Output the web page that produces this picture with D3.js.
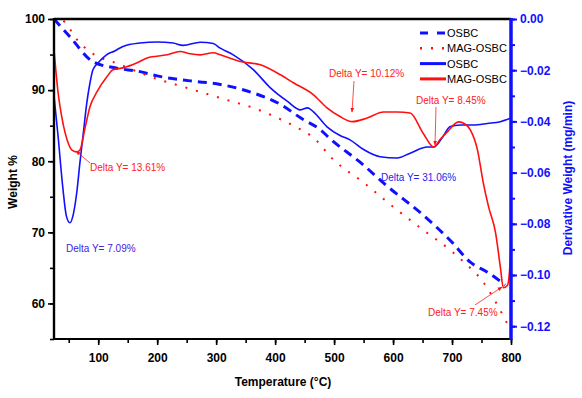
<!DOCTYPE html>
<html>
<head>
<meta charset="utf-8">
<script src="https://cdn.jsdelivr.net/npm/d3@7"></script>
<style>
  body { margin: 0; background: #fff; }
  text { font-family: "Liberation Sans", Arial, sans-serif; }
</style>
</head>
<body>
<svg id="chart" width="582" height="398"></svg>
<script>
// TG curves (weight %) -- [temperature, value]
const osbcTG = [
  [25, 100], [52, 97.5], [91, 94.0], [130, 93.1], [171, 92.6], [200, 92.0], [256, 91.3],
  [307, 90.8], [363, 89.6], [409, 88.0], [443, 86.1], [477, 84.4], [494, 83.1], [545, 79.8],
  [590, 76.5], [650, 72.5], [700, 68.6], [731, 65.8], [760, 64.4], [790, 62.6]
];
const magTG = [
  [25, 100.5], [44, 99.5], [64, 97.1], [86, 95.4], [137, 93.6], [188, 91.9], [251, 90.3],
  [319, 88.6], [363, 87.5], [409, 85.9], [438, 84.7], [465, 83.3], [499, 80.2], [550, 77.0],
  [600, 73.6], [650, 70.4], [700, 67.3], [719, 65.9], [753, 63.0], [774, 60.2], [794, 57.1]
];
// DTG curves (mg/min)
const osbcDTG = [
  [25, -0.030], [32, -0.046], [40, -0.066], [46, -0.077], [52, -0.0796], [58, -0.076],
  [64, -0.067], [69, -0.056], [75, -0.044], [80.5, -0.033], [86, -0.025], [91, -0.0198],
  [100, -0.0171], [114, -0.0140], [128, -0.0125], [142, -0.0107], [171, -0.0094],
  [200, -0.0090], [227, -0.0094], [244, -0.0103], [273, -0.0091], [295, -0.0096],
  [307, -0.0114], [329, -0.0140], [363, -0.0198], [392, -0.0269], [421, -0.0322],
  [443, -0.0355], [455, -0.0347], [465, -0.0363], [488, -0.0421],
  [510, -0.0455], [527, -0.0472], [550, -0.051], [578, -0.0538], [607, -0.0543],
  [629, -0.0524], [658, -0.0500], [669, -0.0500], [683, -0.0465], [697, -0.0420],
  [714, -0.0414], [736, -0.0414], [760, -0.0408], [782, -0.0401], [800, -0.0387]
];
const magDTG = [
  [25, -0.0120], [32, -0.0289], [38, -0.038], [44, -0.0446], [50, -0.049], [55.5, -0.0512],
  [64, -0.0519], [69, -0.0512], [78, -0.0422], [86, -0.0343], [98, -0.0284],
  [115, -0.0225], [125, -0.0198], [142, -0.0191], [166, -0.0171], [183, -0.0152],
  [217, -0.0140], [239, -0.0127], [256, -0.0136], [273, -0.0140], [295, -0.0132],
  [307, -0.0140], [341, -0.0166], [375, -0.0179], [409, -0.0218], [431, -0.0249],
  [465, -0.0296], [488, -0.0347], [510, -0.0381],
  [531, -0.0401], [556, -0.0387], [584, -0.0363], [607, -0.0363], [629, -0.0367],
  [651, -0.0446], [669, -0.0500], [680, -0.047], [692, -0.0441], [711, -0.0402],
  [722, -0.0410], [731, -0.0433], [743, -0.051], [753, -0.064], [762, -0.0734],
  [774, -0.0837], [782, -0.0970], [787, -0.1050], [794, -0.1040], [799, -0.0930],
  [800, -0.0880]
];

const xTicks = [100, 200, 300, 400, 500, 600, 700, 800];
const yLeftTicks = [60, 70, 80, 90, 100];
const yRightTicks = [0, -0.02, -0.04, -0.06, -0.08, -0.10, -0.12];

const legendItems = ["OSBC", "MAG-OSBC", "OSBC", "MAG-OSBC"];

const notes = [
  { text: "Delta Y= 13.61%", x: 90, y: 171, color: "#ff2020", arrow: [[90, 163], [76, 151]] },
  { text: "Delta Y= 7.09%", x: 66, y: 252, color: "#4422e0", arrow: null },
  { text: "Delta Y= 10.12%", x: 329, y: 77, color: "#ff2020", arrow: [[354, 81], [352, 112]] },
  { text: "Delta Y= 8.45%", x: 416, y: 104, color: "#ff2020", arrow: [[436, 107], [435, 145]] },
  { text: "Delta Y= 31.06%", x: 381, y: 181, color: "#2222ee", arrow: null },
  { text: "Delta Y= 7.45%", x: 428, y: 316, color: "#ff2020", arrow: [[475, 305], [502, 287]] }
];

const BLUE = "#1010ff", RED = "#ff1010";

const svg = d3.select("#chart");
const mLeft = 54, mRight = 511, mTop = 19, mBottom = 339;

const x = d3.scaleLinear().domain([25, 800]).range([mLeft, mRight]);
const yL = d3.scaleLinear().domain([55, 100]).range([mBottom, mTop]);
const yR = d3.scaleLinear().domain([-0.125, 0]).range([mBottom, mTop]);

const defs = svg.append("defs");
defs.append("marker")
  .attr("id", "arr").attr("viewBox", "0 0 10 10")
  .attr("refX", 9).attr("refY", 5)
  .attr("markerWidth", 6).attr("markerHeight", 6)
  .attr("orient", "auto")
  .append("path").attr("d", "M0,1 L10,5 L0,9 Z").attr("fill", RED);

defs.append("clipPath").attr("id", "plot")
  .append("rect").attr("x", mLeft).attr("y", mTop)
  .attr("width", mRight - mLeft).attr("height", mBottom - mTop);

const plot = svg.append("g").attr("clip-path", "url(#plot)");

const lineL = d3.line().x(d => x(d[0])).y(d => yL(d[1])).curve(d3.curveMonotoneX);
const lineR = d3.line().x(d => x(d[0])).y(d => yR(d[1])).curve(d3.curveMonotoneX);

plot.append("path").datum(osbcTG).attr("d", lineL)
  .attr("fill", "none").attr("stroke", BLUE).attr("stroke-width", 3).attr("stroke-dasharray", "9,6");
plot.append("path").datum(magTG).attr("d", lineL)
  .attr("fill", "none").attr("stroke", RED).attr("stroke-width", 2)
  .attr("stroke-dasharray", "2,9");
plot.append("path").datum(osbcDTG).attr("d", lineR)
  .attr("fill", "none").attr("stroke", BLUE).attr("stroke-width", 1.6);
plot.append("path").datum(magDTG).attr("d", lineR)
  .attr("fill", "none").attr("stroke", RED).attr("stroke-width", 1.6);

// frame top
svg.append("line").attr("x1", mLeft).attr("x2", mRight).attr("y1", mTop).attr("y2", mTop)
  .attr("stroke", "#000").attr("stroke-width", 2.5);

// bottom axis
const gx = svg.append("g").attr("transform", `translate(0,${mBottom})`);
gx.append("g").call(d3.axisBottom(x).tickValues(d3.range(50, 801, 50)).tickSize(4).tickFormat(""));
gx.append("g").call(d3.axisBottom(x).tickValues(xTicks).tickSize(6).tickSizeOuter(0).tickFormat(d3.format("d")));
gx.selectAll(".domain").attr("stroke-width", 2.2).attr("d", `M${mLeft - 1},0H${mRight}`);
gx.selectAll("line").attr("stroke-width", 1.6);
gx.selectAll("text").attr("font-size", 12).attr("font-weight", "bold").attr("fill", "#000").attr("dy", "1.15em");

// left axis
const gl = svg.append("g").attr("transform", `translate(${mLeft},0)`);
gl.append("g").call(d3.axisLeft(yL).tickValues(d3.range(55, 101, 5)).tickSize(4).tickFormat(""));
gl.append("g").call(d3.axisLeft(yL).tickValues(yLeftTicks).tickSize(6).tickSizeOuter(0).tickFormat(d3.format("d")));
gl.selectAll(".domain").attr("stroke-width", 2.2).attr("d", `M0,${mTop - 1}V${mBottom + 1}`);
gl.selectAll("line").attr("stroke-width", 1.6);
gl.selectAll("text").attr("font-size", 12).attr("font-weight", "bold").attr("fill", "#000");

// right axis
const gr = svg.append("g").attr("transform", `translate(${mRight},0)`);
gr.append("g").call(d3.axisRight(yR).tickValues(d3.range(-0.12, 0.001, 0.01)).tickSize(4).tickFormat(""));
gr.append("g").call(d3.axisRight(yR).tickValues(yRightTicks).tickSize(6).tickSizeOuter(0).tickFormat(d3.format(".2f")));
gr.selectAll(".domain").attr("stroke", BLUE).attr("stroke-width", 3).attr("d", `M0,${mTop - 1}V${mBottom + 1}`);
gr.selectAll("line").attr("stroke", BLUE).attr("stroke-width", 2);
gr.selectAll("text").attr("font-size", 12).attr("font-weight", "bold").attr("fill", BLUE);

// axis titles
svg.append("text").attr("x", 283).attr("y", 386).attr("text-anchor", "middle")
  .attr("font-size", 12).attr("font-weight", "bold").text("Temperature (°C)");
svg.append("text").attr("transform", "translate(17,182) rotate(-90)").attr("text-anchor", "middle")
  .attr("font-size", 12).attr("font-weight", "bold").text("Weight %");
svg.append("text").attr("transform", "translate(572,178) rotate(-90)").attr("text-anchor", "middle")
  .attr("font-size", 12).attr("font-weight", "bold").attr("fill", BLUE).text("Derivative Weight (mg/min)");

// legend
const legendStyles = [
  { stroke: BLUE, width: 3, dash: "8,9" },
  { stroke: RED, width: 2.5, dash: "2,9" },
  { stroke: BLUE, width: 3, dash: null },
  { stroke: RED, width: 3, dash: null }
];
const lg = svg.append("g");
legendItems.forEach((name, i) => {
  const yy = 33 + i * 15.3;
  const s = legendStyles[i];
  lg.append("line").attr("x1", 420).attr("x2", 446).attr("y1", yy).attr("y2", yy)
    .attr("stroke", s.stroke).attr("stroke-width", s.width).attr("stroke-dasharray", s.dash);
  lg.append("text").attr("x", 447).attr("y", yy + 4).attr("font-size", 11).text(name);
});

// annotations
notes.forEach(n => {
  if (n.arrow) {
    svg.append("line")
      .attr("x1", n.arrow[0][0]).attr("y1", n.arrow[0][1])
      .attr("x2", n.arrow[1][0]).attr("y2", n.arrow[1][1])
      .attr("stroke", n.color).attr("stroke-width", 0.8).attr("marker-end", "url(#arr)");
  }
  svg.append("text").attr("x", n.x).attr("y", n.y).attr("font-size", 10)
    .attr("fill", n.color).text(n.text);
});
</script>
</body>
</html>
